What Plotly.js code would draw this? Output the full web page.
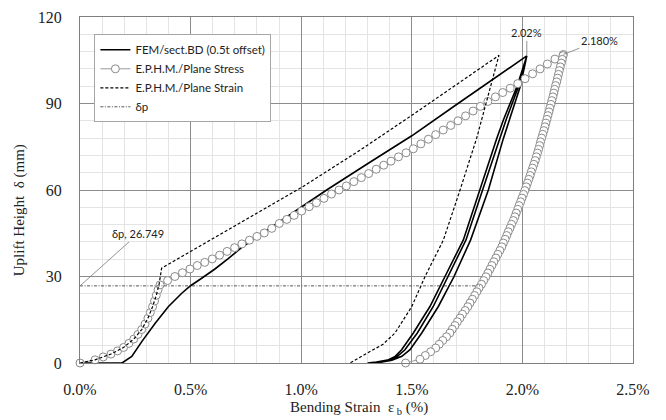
<!DOCTYPE html>
<html>
<head>
<meta charset="utf-8">
<script src="https://cdn.plot.ly/plotly-3.0.1.min.js"></script>
<style>html,body{margin:0;padding:0;background:#fff;}#chart{width:666px;height:420px;}</style>
</head>
<body>
<div id="chart"></div>
<script>
// ---------- DATA ----------
const seriesNames = ["FEM/sect.BD (0.5t offset)", "E.P.H.M./Plane Stress", "E.P.H.M./Plane Strain", "δp"];

// FEM loading
const femLoadX = [0, 0.10, 0.19, 0.234, 0.28, 0.34, 0.40, 0.46, 0.50, 0.55, 0.61, 0.67, 0.73, 0.85, 1.0, 1.115, 1.3, 1.5, 1.709, 1.85, 2.02];
const femLoadY = [0, 0, 0, 2.3, 7.5, 13.8, 19.6, 24.2, 26.8, 29.4, 32.6, 36.2, 40.0, 46.3, 54.0, 60.0, 69.1, 78.8, 90.0, 97.5, 106.5];
// FEM unloading / reloading branches (same heights, three branches)
const femUnloadY = [106.5, 95.8, 84.3, 77.9, 60, 42.7, 30, 19.6, 10.4, 4.6, 2.3, 1.0, 0.3, 0];
const femBranchAX = [2.02, 1.975, 1.914, 1.884, 1.808, 1.733, 1.650, 1.582, 1.507, 1.454, 1.425, 1.39, 1.34, 1.30];
const femBranchBX = [2.02, 1.982, 1.926, 1.899, 1.820, 1.745, 1.665, 1.597, 1.525, 1.469, 1.435, 1.40, 1.35, 1.31];
const femBranchCX = [2.02, 1.990, 1.941, 1.914, 1.846, 1.766, 1.691, 1.620, 1.545, 1.492, 1.455, 1.41, 1.36, 1.32];

// Plane stress loading
const stressLoadX = [0, 0.068, 0.105, 0.14, 0.17, 0.197, 0.221, 0.243, 0.262, 0.279, 0.294, 0.307, 0.318, 0.328, 0.337, 0.345, 0.353,
  0.362, 0.396, 0.429, 0.463, 0.497, 0.530, 0.564, 0.598, 0.631, 0.665, 0.699, 0.732, 0.766, 0.800, 0.833, 0.867, 0.901, 0.935, 0.968,
  1.002, 1.036, 1.069, 1.103, 1.137, 1.171, 1.204, 1.238, 1.272, 1.305, 1.339, 1.373, 1.406, 1.440, 1.474, 1.507, 1.541, 1.575, 1.608,
  1.642, 1.676, 1.709, 1.743, 1.777, 1.810, 1.844, 1.878, 1.911, 1.945, 1.979, 2.012, 2.046, 2.080, 2.113, 2.147, 2.185];
const stressLoadY = [0, 1.1, 2.1, 3.1, 4.2, 5.4, 6.8, 8.3, 9.9, 11.6, 13.5, 15.5, 17.5, 19.5, 21.5, 23.5, 25.4,
  27.1, 28.6, 30.0, 31.3, 32.6, 33.8, 34.9, 36.1, 37.4, 38.7, 40.0, 41.3, 42.6, 43.9, 45.1, 46.7, 48.4, 49.8, 51.2,
  52.7, 54.2, 55.6, 57.1, 58.6, 60.0, 61.4, 62.9, 64.3, 65.7, 67.2, 68.6, 70.0, 71.5, 72.9, 74.3, 76.0, 77.6, 79.2,
  80.8, 82.4, 84.0, 85.7, 87.4, 89.0, 90.7, 92.3, 93.8, 95.3, 96.9, 98.6, 100.3, 102.0, 103.7, 105.4, 107.0];
// Plane stress unloading (listed from the bottom up)
const stressUnloadX = [1.472, 1.537, 1.561, 1.585, 1.608, 1.624, 1.640, 1.657, 1.672, 1.683, 1.695, 1.706, 1.718, 1.729, 1.741, 1.753,
  1.763, 1.774, 1.784, 1.794, 1.804, 1.815, 1.825, 1.835, 1.844, 1.853, 1.862, 1.871, 1.880, 1.889, 1.898, 1.907, 1.914, 1.922,
  1.929, 1.936, 1.944, 1.951, 1.959, 1.966, 1.972, 1.979, 1.985, 1.992, 1.998, 2.005, 2.011, 2.017, 2.023, 2.029, 2.035, 2.040,
  2.046, 2.052, 2.058, 2.063, 2.068, 2.073, 2.078, 2.082, 2.087, 2.092, 2.097, 2.102, 2.106, 2.111, 2.115, 2.120, 2.124, 2.129,
  2.133, 2.138, 2.142, 2.146, 2.150, 2.155, 2.159, 2.163, 2.167, 2.171, 2.176, 2.180, 2.184];
const stressUnloadY = [0, 1.3, 2.6, 3.9, 5.2, 6.5, 7.8, 9.1, 10.4, 11.7, 13.0, 14.3, 15.6, 16.9, 18.2, 19.5,
  20.8, 22.1, 23.4, 24.7, 26.0, 27.3, 28.6, 29.9, 31.2, 32.5, 33.8, 35.1, 36.4, 37.7, 39.0, 40.3, 41.6, 42.9,
  44.2, 45.5, 46.8, 48.1, 49.4, 50.7, 52.0, 53.3, 54.6, 55.9, 57.2, 58.5, 59.8, 61.1, 62.4, 63.7, 65.0, 66.3,
  67.6, 68.9, 70.2, 71.5, 72.8, 74.1, 75.4, 76.7, 78.0, 79.3, 80.6, 81.9, 83.2, 84.5, 85.8, 87.1, 88.4, 89.7,
  91.0, 92.3, 93.6, 94.9, 96.2, 97.5, 98.8, 100.1, 101.4, 102.7, 104.0, 105.3, 106.6];

// Plane strain
const strainX = [0, 0.068, 0.14, 0.197, 0.243, 0.279, 0.307, 0.328, 0.345, 0.358, 0.369, 0.678, 1.0, 1.266, 1.5, 1.894,
  1.816, 1.793, 1.718, 1.643, 1.56, 1.50, 1.424, 1.37, 1.295, 1.22];
const strainY = [0, 1.1, 3.1, 5.4, 8.3, 11.6, 15.5, 19.5, 23.5, 27.5, 32.9, 46.7, 60.8, 73.8, 85.9, 106.7,
  84.3, 77.9, 60, 42.7, 30, 19.6, 10.4, 6.5, 3.3, 0];

// δp line
const deltaP = 26.749;
const deltaPX = [0, 1.808];

// Axis ticks
const xTicks = [0, 0.5, 1.0, 1.5, 2.0, 2.5];
const xTickText = ["0.0%", "0.5%", "1.0%", "1.5%", "2.0%", "2.5%"];
const yTicks = [0, 30, 60, 90, 120];

// Labels
const peakFEM = {x: 2.02, y: 106.5, text: "2.02%"};
const peakStress = {x: 2.185, y: 107.0, text: "2.180%"};

// ---------- BUILD ----------
const rev = a => a.slice().reverse();
const femX = femLoadX.concat(femBranchAX.slice(1), rev(femBranchBX), femBranchCX.slice(1));
const femY = femLoadY.concat(femUnloadY.slice(1), rev(femUnloadY), femUnloadY.slice(1));
const stressX = stressLoadX.concat(rev(stressUnloadX));
const stressY = stressLoadY.concat(rev(stressUnloadY));

const sans = "Lato, 'Open Sans', sans-serif";
const serif = "'Liberation Serif', 'DejaVu Serif', serif";

const traces = [
  {x: femX, y: femY, name: seriesNames[0], legendgroup: "g1", mode: "lines", line: {color: "#000", width: 1.6}},
  {x: stressX, y: stressY, name: seriesNames[1], legendgroup: "g2", mode: "lines+markers", cliponaxis: false,
   line: {color: "#9a9a9a", width: 1},
   marker: {symbol: "circle", size: 8, color: "#fff", line: {color: "#8a8a8a", width: 1}}},
  {x: strainX, y: strainY, name: seriesNames[2], legendgroup: "g3", mode: "lines", line: {color: "#000", width: 1.2, dash: "3px,2px"}},
  {x: deltaPX, y: [deltaP, deltaP], name: seriesNames[3], legendgroup: "g4", mode: "lines", line: {color: "#444", width: 0.9, dash: "3px,1.5px,1px,1.5px"}}
];

const layout = {
  width: 666, height: 420,
  margin: {l: 80, r: 33, t: 17, b: 57},
  paper_bgcolor: "#fff", plot_bgcolor: "#fff",
  showlegend: true,
  legend: {x: 0.026, y: 0.95, xanchor: "left", yanchor: "top", bgcolor: "#fff",
           bordercolor: "#a6a6a6", borderwidth: 1, font: {family: sans, size: 11.5, color: "#222"},
           tracegroupgap: 2.5, traceorder: "normal"},
  xaxis: {range: [0, 2.5], tickvals: xTicks, ticktext: xTickText, showgrid: true, gridcolor: "#8c8c8c", gridwidth: 1,
          minor: {dtick: 0.1, showgrid: true, gridcolor: "#e4e4e4", gridwidth: 1},
          showline: true, linecolor: "#7f7f7f", linewidth: 1, mirror: true, zeroline: false,
          ticks: "", ticklabelstandoff: 12, tickfont: {family: serif, size: 16, color: "#222"}},
  yaxis: {range: [0, 120], tickvals: yTicks, showgrid: true, gridcolor: "#8c8c8c", gridwidth: 1,
          minor: {dtick: 6, showgrid: true, gridcolor: "#e4e4e4", gridwidth: 1},
          showline: true, linecolor: "#7f7f7f", linewidth: 1, mirror: true, zeroline: false,
          ticks: "", ticklabelstandoff: 14, tickfont: {family: serif, size: 16, color: "#222"}},
  annotations: [
    {xref: "paper", yref: "paper", x: -0.11, y: 0.442, text: "Uplift Height  δ (mm)", textangle: -90,
     showarrow: false, font: {family: serif, size: 15, color: "#222"}, xanchor: "center", yanchor: "middle"},
    {xref: "paper", yref: "paper", x: 0.505, y: -0.13, text: "Bending Strain  ε<sub> b</sub> (%)",
     showarrow: false, font: {family: serif, size: 15, color: "#222"}, xanchor: "center", yanchor: "middle"},
    {x: 0, y: deltaP, text: "δp, " + deltaP, showarrow: true, arrowhead: 0, arrowwidth: 0.8, arrowcolor: "#777",
     ax: 58, ay: -52, font: {family: sans, size: 11, color: "#222"}},
    {x: peakFEM.x, y: peakFEM.y, text: peakFEM.text, showarrow: true, arrowhead: 0, arrowwidth: 0.8, arrowcolor: "#777",
     ax: 0, ay: -23, font: {family: sans, size: 11, color: "#222"}},
    {x: peakStress.x, y: peakStress.y, text: peakStress.text, showarrow: true, arrowhead: 0, arrowwidth: 0.8, arrowcolor: "#777",
     ax: 36, ay: -14, font: {family: sans, size: 11, color: "#222"}}
  ]
};

Plotly.newPlot("chart", traces, layout, {displayModeBar: false, staticPlot: true});
</script>
</body>
</html>
